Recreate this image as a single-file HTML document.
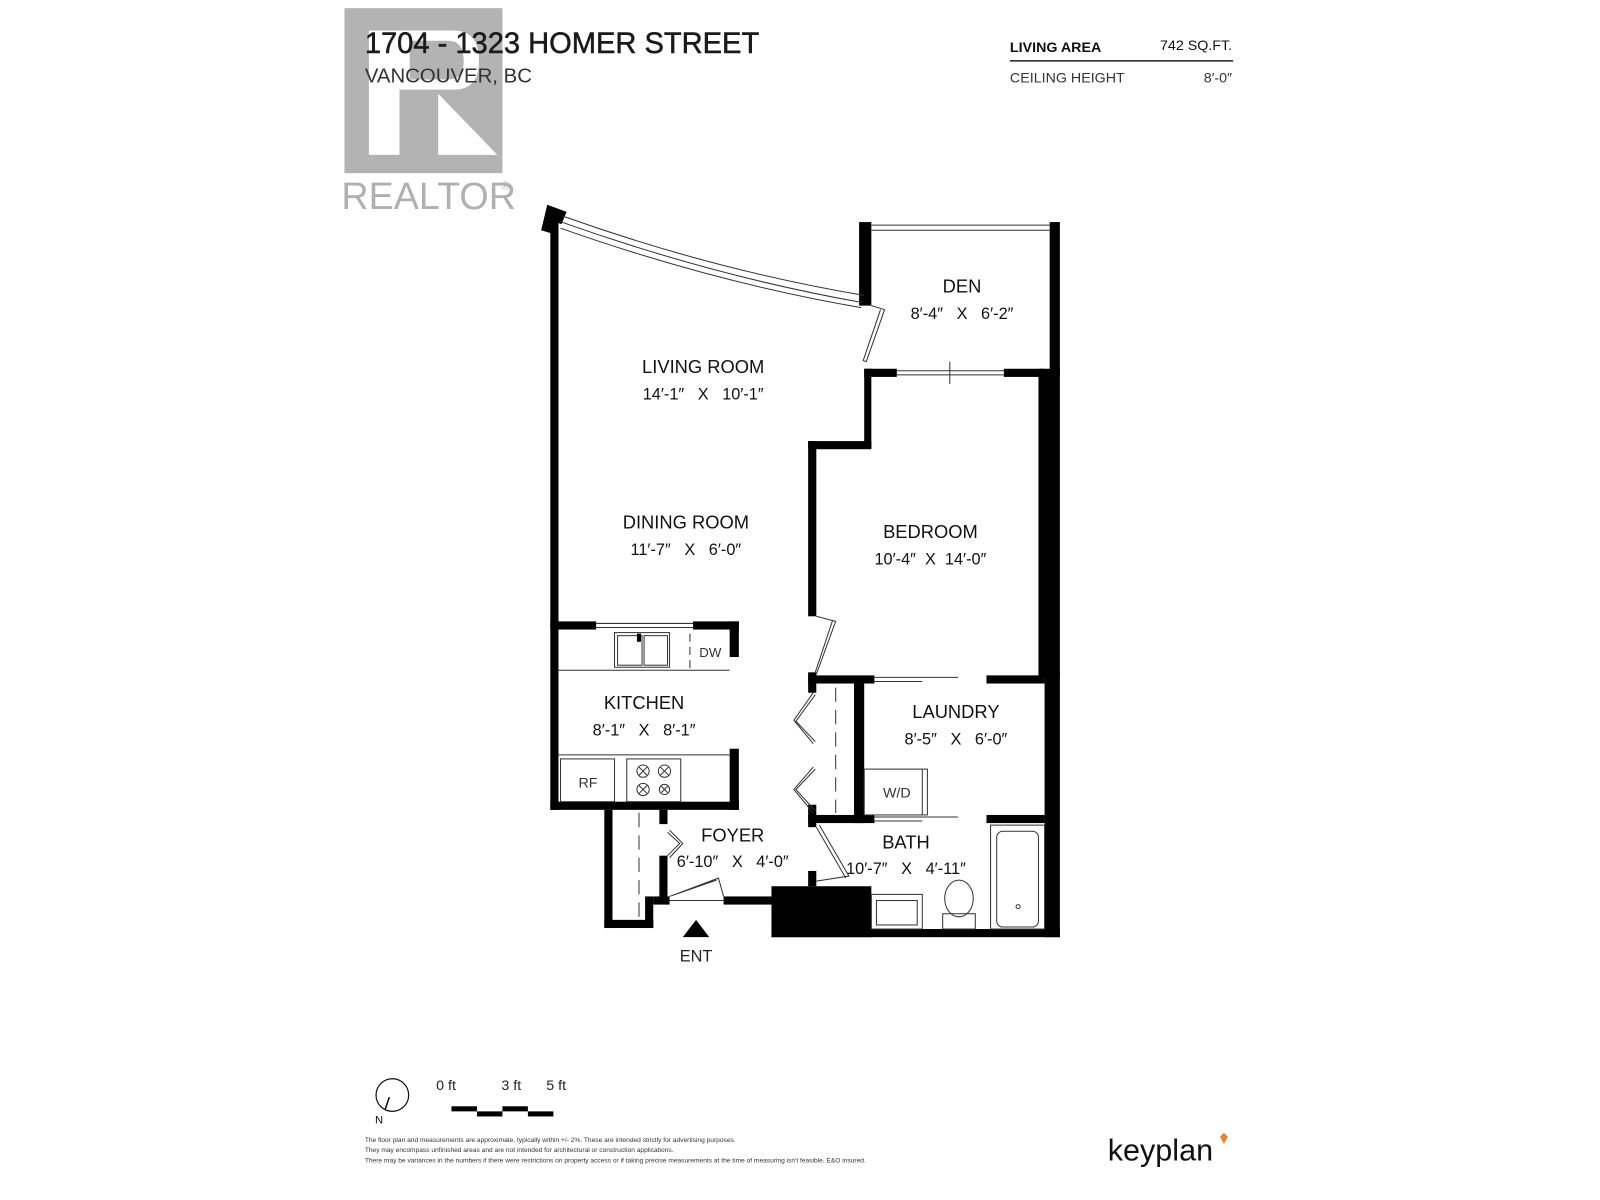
<!DOCTYPE html>
<html><head><meta charset="utf-8"><style>
html,body{margin:0;padding:0;background:#fff;}
svg{display:block;}
text{font-family:"Liberation Sans",sans-serif;fill:#111;white-space:pre;}
</style></head><body>
<svg width="1600" height="1200" viewBox="0 0 1570 1178" preserveAspectRatio="none" xmlns="http://www.w3.org/2000/svg">
<rect x="338" y="8" width="155" height="162" fill="#b3b3b3"/>
<rect x="362" y="30" width="30" height="122" fill="#fff"/>
<path d="M392 30 H445 Q470 30 470 60 Q470 88 445 88 H392 Z" fill="#fff"/>
<path d="M430 92 L488 152 H430 Z" fill="#fff"/>
<path d="M402 40 H440 Q455 40 455 60 Q455 78 440 78 H402 Z" fill="#b3b3b3"/>
<text x="335" y="205" font-size="37" style="fill:#b0b0b0">REALTOR</text>
<text x="492" y="186" font-size="11" style="fill:#b0b0b0">®</text>
<text x="358" y="52" font-size="29" textLength="387" lengthAdjust="spacingAndGlyphs" style="fill:#1a1a1a;stroke:#1a1a1a;stroke-width:0.5">1704 - 1323 HOMER STREET</text>
<text x="358" y="81" font-size="20" style="fill:#333">VANCOUVER, BC</text>
<text x="991" y="51" font-size="14" font-weight="bold">LIVING AREA</text>
<text x="1209" y="49" font-size="14" text-anchor="end">742 SQ.FT.</text>
<rect x="991" y="59" width="219" height="1.5" fill="#222"/>
<text x="991" y="81" font-size="14" style="fill:#333">CEILING HEIGHT</text>
<text x="1209" y="81" font-size="14" text-anchor="end" style="fill:#333">8′-0″</text>

<g fill="#000">
<rect x="540" y="218" width="8" height="577"/>
<path d="M537 201 L556 208 L551 220 L545 218 L544 230 L531 226 Z"/>
<rect x="843" y="218" width="12" height="82"/>
<rect x="1030" y="218" width="10" height="150"/>
<rect x="848" y="362" width="32" height="8"/>
<rect x="985" y="362" width="40" height="8"/>
<rect x="848" y="362" width="7" height="78"/>
<rect x="793" y="433" width="62" height="8"/>
<rect x="793" y="433" width="8" height="172"/>
<rect x="1019" y="362" width="21" height="303"/>
<rect x="1025" y="660" width="15" height="260"/>
<rect x="793" y="663" width="65" height="8"/>
<rect x="968" y="663" width="57" height="8"/>
<rect x="793" y="660" width="8" height="20"/>
<rect x="838" y="671" width="10" height="137"/>
<rect x="793" y="800" width="65" height="8"/>
<rect x="968" y="800" width="57" height="8"/>
<rect x="793" y="790" width="8" height="22"/>
<rect x="793" y="855" width="8" height="15"/>
<rect x="540" y="610" width="45" height="8"/>
<rect x="680" y="610" width="45" height="8"/>
<rect x="716" y="610" width="9" height="35"/>
<rect x="716" y="735" width="9" height="60"/>
<rect x="540" y="787" width="185" height="8"/>
<rect x="593" y="795" width="8" height="116"/>
<rect x="593" y="903" width="48" height="8"/>
<rect x="633" y="880" width="8" height="31"/>
<rect x="647" y="795" width="8" height="14"/>
<rect x="647" y="840" width="8" height="45"/>
<rect x="641" y="880" width="16" height="8"/>
<rect x="710" y="880" width="50" height="8"/>
<rect x="757" y="870" width="98" height="50"/>
<rect x="757" y="912" width="283" height="8"/>
<path d="M670 920 L683 903 L696 920 Z"/>
</g>

<g fill="none" stroke="#333" stroke-width="1">
<path d="M552 212 Q700 265 848 290"/>
<path d="M551 218 Q700 271 846 297"/>
<path d="M550 224 Q700 277 845 302"/>
<line x1="855" y1="221" x2="1030" y2="221"/><line x1="855" y1="226" x2="1030" y2="226"/>
<line x1="880" y1="364" x2="985" y2="364"/><line x1="880" y1="368" x2="985" y2="368"/>
<line x1="932" y1="355" x2="932" y2="377"/>
<path d="M855 300 L868 304 L850 355 L847 354 L864 304"/>
<path d="M801 605 L820 610 L801 662 M817 609 L800 660"/>
<line x1="858" y1="665" x2="940" y2="665"/><line x1="858" y1="669" x2="905" y2="669"/>
<line x1="858" y1="802" x2="940" y2="802"/><line x1="858" y1="806" x2="905" y2="806"/>
<path d="M800 682 L781 708 L800 728 M798 680 L779 707 L798 730"/>
<path d="M800 755 L781 775 L800 796 M798 753 L779 775 L798 798"/>
<line x1="820" y1="675" x2="820" y2="798" stroke-dasharray="14 8"/>
<path d="M801 812 L830 862 M804 810 L833 860 L801 865"/>
<rect x="848" y="755" width="62" height="45"/>
<line x1="905" y1="755" x2="905" y2="800"/>
<line x1="585" y1="612" x2="680" y2="612"/><line x1="585" y1="616" x2="680" y2="616"/>
<line x1="548" y1="658" x2="716" y2="658"/>
<rect x="603" y="621" width="54" height="34"/>
<rect x="606" y="624" width="24" height="29"/><rect x="632" y="624" width="23" height="29"/>
<line x1="677" y1="622" x2="677" y2="658" stroke-dasharray="8 5"/>
<line x1="548" y1="741" x2="716" y2="741"/>
<rect x="550" y="745" width="53" height="42"/>
<rect x="615" y="745" width="53" height="42"/>
<circle cx="631" cy="757" r="6"/><circle cx="652" cy="757" r="6"/>
<circle cx="631" cy="775" r="6"/><circle cx="652" cy="775" r="5"/>
<path d="M627 753 L635 761 M635 753 L627 761 M648 753 L656 761 M656 753 L648 761 M627 771 L635 779 M635 771 L627 779 M649 772 L655 778 M655 772 L649 778"/>
<line x1="627" y1="798" x2="627" y2="900" stroke-dasharray="14 8"/>
<path d="M657 815 L670 828 L657 842 M655 817 L667 828 L655 840"/>
<path d="M657 884 L710 884 M657 880 L705 862 L710 880 M660 879 L703 864"/>
<rect x="855" y="878" width="50" height="34"/>
<rect x="860" y="884" width="40" height="24"/>
<ellipse cx="941" cy="882" rx="14" ry="18"/>
<rect x="925" y="897" width="32" height="15"/>
<rect x="972" y="810" width="53" height="102"/>
<rect x="978" y="816" width="41" height="94" rx="6"/>
<circle cx="999" cy="890" r="2"/>
</g>
<g fill="#000"><rect x="625" y="622" width="4" height="8"/></g>

<g text-anchor="middle">
<text x="944" y="287" font-size="18">DEN</text>
<text x="944" y="313" font-size="16">8′-4″   X   6′-2″</text>
<text x="690" y="366" font-size="18">LIVING ROOM</text>
<text x="690" y="392" font-size="16">14′-1″   X   10′-1″</text>
<text x="673" y="519" font-size="18">DINING ROOM</text>
<text x="673" y="545" font-size="16">11′-7″   X   6′-0″</text>
<text x="913" y="528" font-size="18">BEDROOM</text>
<text x="913" y="554" font-size="16">10′-4″  X  14′-0″</text>
<text x="632" y="696" font-size="18">KITCHEN</text>
<text x="632" y="722" font-size="16">8′-1″   X   8′-1″</text>
<text x="938" y="705" font-size="18">LAUNDRY</text>
<text x="938" y="731" font-size="16">8′-5″   X   6′-0″</text>
<text x="719" y="826" font-size="18">FOYER</text>
<text x="719" y="851" font-size="16">6′-10″   X   4′-0″</text>
<text x="889" y="833" font-size="18">BATH</text>
<text x="889" y="858" font-size="16">10′-7″   X   4′-11″</text>
<text x="697" y="645" font-size="13" style="fill:#333">DW</text>
<text x="577" y="773" font-size="14" style="fill:#333">RF</text>
<text x="880" y="783" font-size="14" style="fill:#333">W/D</text>
<text x="683" y="944" font-size="16" style="fill:#222">ENT</text>
</g>

<circle cx="385" cy="1075" r="16" fill="none" stroke="#111" stroke-width="1.2"/>
<line x1="378" y1="1089" x2="382" y2="1077" stroke="#111" stroke-width="1.5"/>
<text x="368" y="1103" font-size="11">N</text>
<text x="428" y="1070" font-size="14" style="fill:#222">0 ft</text>
<text x="492" y="1070" font-size="14" style="fill:#222">3 ft</text>
<text x="536" y="1070" font-size="14" style="fill:#222">5 ft</text>
<rect x="443" y="1086" width="25" height="5" fill="#000"/>
<rect x="468" y="1091" width="25" height="5" fill="#000"/>
<rect x="493" y="1086" width="25" height="5" fill="#000"/>
<rect x="518" y="1091" width="25" height="5" fill="#000"/>
<text x="358" y="1121" font-size="6.5" style="fill:#333">The floor plan and measurements are approximate, typically within +/- 2%. These are intended strictly for advertising purposes.</text>
<text x="358" y="1131" font-size="6.5" style="fill:#333">They may encompass unfinished areas and are not intended for architectural or construction applications.</text>
<text x="358" y="1141" font-size="6.5" style="fill:#333">There may be variances in the numbers if there were restrictions on property access or if taking precise measurements at the time of measuring isn't feasible. E&amp;O insured.</text>
<text x="1087" y="1139" font-size="30" style="fill:#111">keyplan</text>
<path d="M1197 1116 L1201 1112 L1205 1116 L1201 1123 Z" fill="#e8833a"/>
</svg>
</body></html>
